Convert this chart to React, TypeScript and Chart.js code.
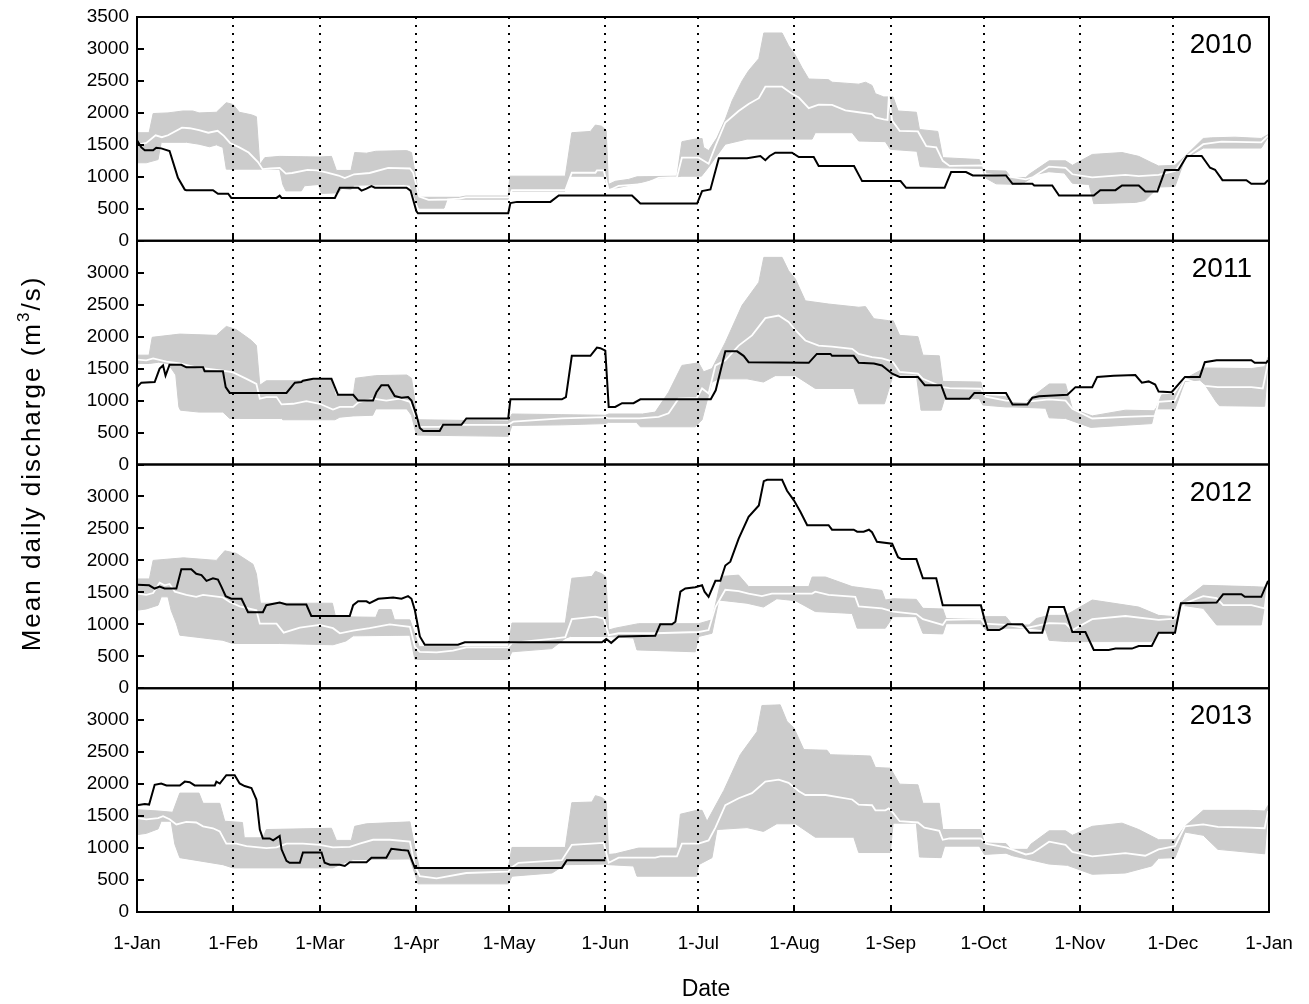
import React, { useEffect, useRef } from "react";
import { Chart, registerables } from "chart.js";
Chart.register(...registerables);

type P = [number, number];

const YEARS = ["2010", "2011", "2012", "2013"];
const MONTH_DAYS = [0, 31, 59, 90, 120, 151, 181, 212, 243, 273, 304, 334, 365];
const MONTH_LABELS = ["1-Jan", "1-Feb", "1-Mar", "1-Apr", "1-May", "1-Jun", "1-Jul", "1-Aug", "1-Sep", "1-Oct", "1-Nov", "1-Dec", "1-Jan"];
const Y_TICKS = [0, 500, 1000, 1500, 2000, 2500, 3000, 3500];
const Y_TITLE_MAIN = "Mean daily discharge (m";
const Y_TITLE_SUP = "3";
const Y_TITLE_END = "/s)";
const X_TITLE = "Date";

// ---------- 2010 ----------
const obs2010: P[] = [[0,1570],[1.4,1460],[2.5,1415],[5.2,1415],[6.2,1455],[7.8,1445],[10.5,1405],[12.2,1140],[13.2,985],[15.4,800],[15.9,790],[24.5,790],[26.1,735],[29.4,735],[30.4,670],[45,670],[46,705],[46.6,670],[63.8,670],[65.4,830],[71.3,830],[72.4,785],[74,815],[75.6,855],[76.7,830],[86.9,830],[88.2,785],[90.1,460],[90.6,430],[119.7,430],[120.4,590],[122.5,608],[133.3,608],[136,707],[159.6,707],[162.3,582],[180.6,582],[182.2,776],[184.9,802],[187.6,1290],[196.7,1290],[201,1326],[202.6,1260],[204,1326],[205.8,1378],[211.2,1378],[213.4,1310],[218.2,1310],[219.8,1168],[231.2,1168],[233.8,933],[246.2,933],[248,828],[260.4,828],[262.5,1074],[267.3,1074],[269.5,1022],[280.2,1022],[282.3,891],[288.7,891],[289.3,865],[295.1,865],[297.3,707],[308.5,707],[310.6,791],[315.5,791],[317.6,865],[323,865],[325.1,770],[329,770],[331.5,1106],[335.8,1106],[338.5,1326],[343.3,1326],[346,1142],[347.6,1110],[350,948],[357.7,948],[359.3,891],[363.6,891],[364.7,948]];
const max2010: P[] = [[0,1690],[3.9,1690],[5.2,1990],[10,2000],[14.8,2030],[18,2030],[20,2000],[25.6,2010],[27.5,2100],[28.8,2160],[31,2130],[33,2010],[36.9,1970],[38.5,1940],[39.6,1190],[41.2,1300],[46,1320],[59,1310],[62.7,1320],[64.3,1100],[69,1100],[70.2,1380],[74,1370],[77,1400],[87,1410],[88.5,1380],[91,680],[104,680],[106,700],[119.7,700],[120.2,1010],[138.1,1010],[140.2,1690],[146.2,1710],[147.8,1810],[149.9,1790],[151.3,1720],[152,880],[154.2,930],[158.5,960],[161.2,1000],[174.1,1010],[175.7,1550],[180,1590],[182.2,1600],[182.7,1460],[184.3,1410],[187,1610],[189.7,1900],[191.9,2190],[195.1,2500],[197.2,2660],[200.5,2850],[202.1,3250],[208,3250],[210.1,3050],[212.3,2900],[214.4,2710],[216.6,2530],[223,2520],[224.1,2480],[232.7,2450],[234.9,2480],[237,2430],[238.1,2300],[240.8,2250],[243.8,2250],[245.4,2030],[251.3,2010],[252.3,1740],[258.2,1710],[259.8,1300],[271.6,1270],[272.7,1140],[273.7,1100],[280.2,1090],[281.8,990],[286.6,990],[287.7,1040],[294.1,1250],[299.4,1250],[301.6,1180],[308,1350],[317.6,1380],[323,1320],[327.2,1220],[329.4,1170],[334.7,1180],[337.9,1320],[343.8,1600],[346.5,1610],[354,1620],[362.5,1600],[364.7,1660]];
const min2010: P[] = [[0,1220],[3,1220],[6.8,1270],[7.8,1540],[16,1540],[20,1510],[23.4,1470],[25.6,1500],[27.7,1460],[28.8,1120],[39.6,1120],[46,1120],[47,880],[48,780],[53,780],[54,860],[58.5,880],[59.5,740],[65,750],[66,820],[69,800],[70,870],[86,880],[88,870],[90,620],[91,510],[99,510],[100,650],[119.7,650],[120.4,775],[138,775],[139.7,1010],[150.5,1010],[152,820],[155,830],[160,880],[168,980],[174,1000],[175.7,1010],[182,1010],[184.3,1150],[186.5,1300],[189.7,1510],[196.7,1590],[217.7,1590],[218.7,1690],[230.6,1690],[232.7,1560],[241.3,1550],[242.9,1430],[251.5,1400],[252.5,1160],[259.8,1140],[272.5,1130],[273.7,980],[277,890],[285,880],[287.7,960],[290,1040],[294,1080],[299,1060],[301.6,900],[307,880],[308.5,580],[322,600],[325,630],[329.4,840],[334.7,850],[337.9,1280],[343.8,1450],[362.5,1450],[364.7,1620]];
const mean2010: P[] = [[0,1500],[3,1530],[6,1650],[8,1620],[10,1650],[14.5,1770],[17,1760],[20,1730],[23,1690],[26,1720],[28,1640],[30,1530],[33,1460],[36,1380],[39,1230],[40.5,1120],[43,1130],[46,1140],[48,1050],[50,1060],[55,1110],[58,1100],[61,1070],[65,1020],[67,980],[70,1040],[75,1060],[81,1140],[88,1130],[89,1070],[91,690],[94,640],[100,645],[104,660],[106,680],[120,680],[120.9,790],[138.1,790],[140.2,1064],[147.8,1064],[148.3,1100],[150.5,1100],[152.1,786],[155.3,860],[163.9,890],[168.2,985],[174.1,995],[175.7,1300],[181.1,1300],[184.3,1205],[186.5,1480],[189.7,1850],[194,2030],[197.2,2140],[200.5,2230],[202.6,2410],[208,2410],[211.2,2300],[213.4,2240],[216.6,2075],[219.8,2130],[224.1,2125],[228.4,2040],[232.7,2010],[237,1980],[238.1,1930],[240.8,1900],[242,1890],[242.4,2240],[243.5,1880],[245.9,1720],[251.8,1710],[254.5,1480],[257.7,1460],[259.8,1250],[262,1170],[272.7,1180],[273.7,1040],[280.2,1010],[286.6,960],[288.7,990],[294.1,1160],[299.4,1140],[301.6,1040],[308,990],[313.3,1010],[318.7,1030],[323,1010],[329.4,1030],[334.7,1090],[337.9,1300],[343.8,1510],[349.7,1550],[362.5,1540],[364.7,1640]];

// ---------- 2011 ----------
const obs2011: P[] = [[0,1210],[1.4,1280],[5.7,1290],[7.3,1500],[8.4,1550],[9.2,1390],[10.5,1560],[14.3,1560],[15.9,1520],[21.3,1520],[21.8,1460],[27.7,1460],[28.6,1210],[29.9,1120],[48.2,1120],[50.9,1280],[53,1290],[53.5,1310],[56.8,1340],[62.7,1340],[64.8,1090],[69.7,1090],[71.3,1000],[76.1,1000],[77.2,1130],[78.8,1240],[81,1240],[83.1,1070],[85.3,1045],[87.4,1055],[88.5,1000],[90.1,770],[91.2,570],[92.3,525],[97.6,525],[98.7,620],[104.6,620],[106.2,720],[119.7,720],[120.4,1020],[137,1020],[138.3,1055],[140.2,1700],[146.2,1700],[148.3,1830],[149.4,1820],[151,1780],[152.1,900],[154.2,900],[156.4,960],[160.1,960],[162.3,1020],[185,1020],[186.6,1160],[189.7,1770],[193.5,1770],[195.6,1700],[197.2,1600],[216.6,1590],[219.2,1730],[223.6,1730],[224.1,1700],[231.1,1700],[232.7,1590],[237.6,1580],[240.2,1550],[243.5,1420],[245.9,1370],[251.8,1370],[254,1240],[259.3,1240],[260.9,1030],[268.4,1030],[270,1120],[280.2,1120],[282.3,940],[287.1,940],[288.7,1045],[290.9,1066],[300,1090],[302.6,1210],[308,1210],[309.6,1370],[314.9,1390],[321.9,1400],[324,1280],[326.2,1300],[328.3,1250],[329.4,1140],[333.6,1130],[337.9,1370],[342.7,1370],[344.3,1600],[348.1,1630],[359.3,1630],[360.4,1590],[364.1,1590],[364.7,1630]];
const max2011: P[] = [[0,1710],[3.9,1710],[4.9,1990],[13.8,2040],[25.6,2020],[28.8,2160],[32,2110],[36.9,1940],[38.5,1860],[39.6,1240],[41.7,1310],[51.4,1310],[62.7,1320],[64,1080],[69.7,1080],[70.5,1350],[77,1390],[87,1400],[88.5,1350],[90.5,700],[119.7,680],[120.9,790],[137,780],[151,770],[152.1,790],[163,790],[167.1,820],[171.4,1130],[175.7,1550],[181.1,1590],[182.7,1450],[185.4,1500],[189.7,1910],[195.1,2490],[200.5,2850],[202.1,3240],[208,3240],[210.1,3030],[212.3,2900],[215.5,2560],[223,2510],[232.7,2460],[234.9,2470],[237.6,2280],[242.4,2250],[243.8,2250],[245.9,2020],[251.8,2000],[253.4,1710],[258.7,1700],[259.8,1300],[272.1,1290],[273.2,1080],[280.2,1060],[282.3,980],[286.6,980],[294.1,1260],[299.4,1260],[301.6,870],[308,760],[318.7,850],[328.3,840],[330.4,1090],[334.7,1100],[337.9,1340],[344.3,1510],[359.3,1500],[363.6,1530],[364.7,1680]];
const min2011: P[] = [[0,1580],[4,1580],[7,1600],[10,1580],[12.5,1400],[13.5,900],[14,850],[20,820],[27.7,820],[29.9,720],[46.6,720],[47,700],[63.8,700],[65.4,740],[69.7,760],[76,770],[77,870],[87,870],[88.5,770],[90.1,460],[119.7,440],[120.9,610],[137,620],[151,640],[152.1,660],[161,660],[162.3,590],[180,590],[182.2,700],[185.4,1290],[187.6,1340],[196.7,1340],[202,1290],[205.8,1390],[212.3,1390],[218.7,1190],[231.1,1190],[232.7,950],[241,950],[243.8,1400],[251.3,1400],[252.8,850],[259.3,850],[260.4,1030],[271.6,1030],[272.7,930],[280.2,900],[282.3,900],[293,880],[294.1,730],[299.4,720],[307.5,580],[327.2,640],[328.3,870],[334.7,870],[337.9,1300],[342.7,1320],[344.3,1250],[348.1,970],[349,920],[363.6,910],[364.7,1600]];
const mean2011: P[] = [[0,1640],[3,1630],[5.2,1660],[9.5,1610],[13.8,1580],[19.1,1520],[27.7,1470],[31,1440],[35.3,1340],[38.5,1260],[39.6,1030],[41.7,1055],[45,1055],[46.6,940],[50.3,950],[54.6,990],[58.9,950],[63.2,860],[65.4,900],[69.7,900],[71.3,970],[76.1,1030],[80.4,1000],[84.7,1030],[88,980],[89.6,770],[91.2,590],[97.6,590],[98.7,620],[119.7,620],[121.3,670],[137,720],[151,740],[152.1,720],[162,720],[168.2,745],[171.4,800],[174.6,1030],[180.5,1040],[182.2,1190],[184.3,1110],[186.5,1550],[189.7,1630],[194,1860],[198.3,2020],[202.6,2290],[206.9,2330],[210.1,2230],[212.3,2100],[215.5,1940],[219.8,1860],[224.1,1845],[230.6,1810],[232.7,1730],[237,1680],[240.2,1660],[242.4,1630],[243.8,1600],[245.9,1450],[251.8,1420],[253.4,1340],[259.8,1210],[262,1195],[272.1,1185],[273.7,1060],[280.2,1000],[286.6,980],[294.1,1020],[299.4,1000],[301.6,870],[308,720],[318.7,745],[328.3,760],[329.4,980],[334.7,1000],[337.9,1340],[344.3,1230],[348.5,1210],[359.3,1210],[363,1190],[364.7,1600]];

// ---------- 2012 ----------
const obs2012: P[] = [[0,1620],[3.9,1610],[5.7,1560],[7.3,1590],[8.9,1560],[12.7,1560],[14.3,1860],[17.5,1860],[19.1,1790],[20.8,1770],[22.4,1680],[24.5,1720],[26.1,1700],[27.2,1590],[28.6,1440],[30.4,1400],[33.7,1400],[35.8,1190],[40.6,1190],[41.7,1300],[46,1340],[48.2,1310],[54.6,1310],[56.2,1130],[68.6,1130],[69.7,1300],[71.3,1360],[74,1360],[75,1330],[77.8,1400],[82.6,1420],[85.3,1400],[87.4,1440],[88.5,1400],[89.6,1220],[91.2,810],[92.8,680],[103.5,680],[105.7,720],[149.9,720],[151.3,770],[152.9,710],[155.3,810],[167.1,820],[168.7,1000],[172.5,1000],[173.6,1040],[175.2,1510],[176.8,1560],[180,1580],[182.2,1610],[183,1510],[184.3,1430],[186.5,1680],[188.1,1680],[189.7,1920],[191.3,1980],[194,2340],[197.2,2680],[200.5,2860],[202.1,3240],[203.2,3260],[208,3260],[209.6,3090],[211.8,2940],[213.9,2760],[216.1,2550],[223,2550],[224.1,2480],[231.1,2480],[232.2,2450],[234.3,2450],[236,2480],[237,2440],[238.6,2290],[243.5,2260],[245.4,2050],[246.5,2020],[251.3,2020],[253.4,1720],[257.7,1720],[259.8,1300],[272.1,1300],[273.2,1090],[274.3,910],[278,910],[279.1,940],[280.7,1000],[285.5,1000],[287.7,870],[291.9,870],[294.1,1270],[298.9,1270],[301.6,880],[305.8,880],[308.5,600],[313.3,600],[315.5,620],[320.8,620],[323,660],[327.2,660],[329.4,870],[334.7,870],[336.6,1330],[348.1,1340],[350.2,1470],[356.1,1470],[357.2,1430],[362.5,1430],[364.7,1680]];
const max2012: P[] = [[0,1710],[4,1710],[5.2,2000],[15,2040],[25.6,2000],[28.3,2150],[32,2110],[37.4,1940],[38.5,1790],[39.8,1330],[63,1330],[64,1120],[77,1110],[78,1230],[82,1230],[83,1070],[88,1070],[91,650],[119.7,650],[120.9,1020],[138.1,1020],[140.2,1720],[146.7,1750],[147.8,1830],[149.9,1790],[151.2,1740],[152.1,910],[154.2,940],[161.7,1010],[181.1,1010],[185.4,1070],[188.6,1750],[194,1770],[197.2,1590],[216.6,1590],[217.7,1740],[222,1740],[230.6,1590],[240.2,1530],[241.3,1380],[243.8,1400],[251.3,1390],[253.4,1250],[259.8,1240],[260.9,1090],[272,1080],[273.2,1120],[280.2,1120],[282.3,990],[287.7,990],[290,1090],[294.1,1140],[299.4,1140],[301.6,1200],[308,1380],[323,1270],[329.4,1140],[334.7,1120],[336.6,1340],[343.8,1610],[359.3,1590],[364,1580],[364.7,1680]];
const min2012: P[] = [[0,1220],[3,1240],[6.8,1300],[7.8,1430],[10,1430],[11,1220],[12.7,1010],[13.8,830],[27.7,750],[30.9,700],[46,700],[63.2,680],[67.4,740],[69.7,820],[88,830],[89.6,450],[119.7,450],[120.9,570],[133.8,620],[138.1,780],[139.7,810],[152,810],[160.1,785],[161.2,600],[180,570],[181.1,810],[185.4,860],[187.6,1380],[196.7,1330],[202,1270],[206.3,1400],[212.3,1370],[218.7,1200],[230.6,1170],[232.2,940],[241.3,940],[243.8,1120],[251.3,1120],[253.4,860],[259.8,850],[260.9,1010],[272,1010],[273.7,910],[280.2,940],[287.7,940],[293,910],[294.1,750],[300,730],[308,730],[327.2,730],[329.4,860],[334.7,870],[336.6,1300],[343.8,1250],[348.1,990],[362.5,990],[364.7,1600]];
const mean2012: P[] = [[0,1480],[3,1460],[5.2,1490],[7.3,1650],[8.9,1610],[10.5,1630],[12.2,1510],[15.9,1460],[19.1,1430],[21.3,1460],[27.7,1420],[29.9,1350],[33.1,1280],[38.5,1220],[39.6,1010],[45,1010],[47.3,870],[52.5,950],[58.9,990],[63.2,940],[65.4,860],[69.7,900],[75,940],[81.5,1000],[84.7,980],[88,960],[89.6,650],[91.2,570],[96.6,560],[101.9,590],[106.2,640],[119.7,640],[120.9,710],[135,780],[138.1,800],[140.2,1080],[147.8,1120],[150.5,1090],[152.1,830],[155.3,860],[167.1,860],[181.1,880],[184.3,910],[186.5,1270],[189.7,1540],[194,1520],[197.2,1480],[201.5,1440],[204.7,1480],[217.7,1480],[218.7,1510],[223,1460],[231.6,1430],[232.7,1280],[240.2,1250],[243.8,1200],[251.3,1160],[253.4,1080],[259.8,990],[260.9,1070],[272.1,1080],[273.2,1010],[280.2,990],[286.6,940],[294.1,1020],[299.4,1010],[301.6,910],[308,1080],[318.7,1130],[329.4,1070],[334.7,1090],[337.9,1330],[343.8,1440],[348.1,1410],[350.2,1300],[359.3,1300],[363.6,1250],[364.7,1640]];

// ---------- 2013 ----------
const obs2013: P[] = [[0,1670],[2.5,1690],[3.9,1680],[5.7,1990],[7.8,2010],[9.5,1980],[13.8,1980],[15.4,2040],[17,2030],[18.6,1980],[25.1,1980],[25.6,2040],[26.7,2010],[28.8,2140],[31.5,2140],[33.1,2010],[34.7,1970],[36.9,1940],[38.5,1760],[39.6,1290],[40.6,1150],[42.8,1150],[43.9,1120],[46,1190],[46.6,980],[48.2,800],[49.2,770],[52.5,770],[53.5,930],[59.5,930],[60.5,770],[62.2,740],[65.4,740],[67,720],[68.6,780],[74,780],[75.6,850],[80.4,850],[82,990],[85.3,970],[87.4,960],[89.6,690],[137,690],[138.6,810],[151,810]];
const max2013: P[] = [[0,1600],[6.8,1580],[11.5,1560],[13.8,1860],[20,1860],[21.3,1700],[26.7,1700],[28.3,1420],[34,1400],[34.6,1160],[40.6,1160],[41.7,1290],[62.7,1310],[64.3,1120],[69.1,1120],[70.2,1340],[74,1380],[88,1410],[89.6,1000],[91.2,660],[119.7,680],[120.9,1010],[138.1,1010],[140.2,1710],[146.7,1720],[147.8,1820],[149.9,1790],[151.3,1730],[152.1,900],[154.2,910],[161.7,1000],[174.1,1000],[175.2,1530],[180.5,1590],[182.2,1590],[183.8,1420],[189.2,1900],[194.5,2460],[199.9,2820],[201.5,3230],[207.4,3240],[209.6,2980],[211.8,2880],[215,2540],[222.5,2530],[223.6,2460],[231.1,2450],[236.5,2440],[238.1,2260],[242.9,2250],[245.9,2000],[251.8,1990],[253.4,1700],[258.7,1700],[259.8,1290],[272.1,1290],[273.2,1080],[280.2,1070],[281.8,980],[287.1,980],[288.2,1060],[294.1,1270],[299.4,1270],[301.6,1200],[308,1340],[317.6,1390],[323,1290],[329.4,1130],[334.7,1130],[337.9,1340],[343.8,1590],[358.8,1590],[363.6,1580],[364.7,1670]];
const min2013: P[] = [[0,1210],[3,1230],[6.8,1300],[7.8,1420],[11,1420],[12.2,1060],[13.8,850],[27.7,740],[30.9,690],[63.2,690],[65.4,740],[69.7,820],[88,830],[89.6,600],[90.6,440],[119.7,440],[120.9,560],[133.8,610],[138.1,740],[151,750],[152.1,740],[160.1,720],[161.2,560],[180.5,560],[181.1,740],[185.4,850],[187,1290],[196.7,1320],[202,1260],[206.3,1380],[212.3,1380],[218.7,1170],[231.1,1170],[232.7,930],[242.9,930],[243.8,1390],[251.3,1390],[252.3,860],[259.3,850],[260.4,1030],[271.6,1030],[273.2,900],[280.2,920],[282.3,880],[294.1,750],[300,730],[308,590],[318.7,610],[327.2,720],[329.4,840],[334.7,850],[337.9,1250],[343.8,1200],[348.5,980],[363.6,910],[364.7,1620]];
const mean2013: P[] = [[0,1470],[3,1450],[6.8,1470],[8.4,1500],[10.5,1450],[12.7,1370],[15.9,1410],[19.1,1400],[21.3,1340],[24.5,1310],[26.7,1260],[28.8,1070],[32,1070],[35.3,1030],[41.7,1000],[45,1010],[48.2,1070],[53.5,1070],[58.9,1050],[63.2,1010],[68.6,1020],[71.8,1070],[76.1,1130],[81.5,1130],[88,1100],[89.6,720],[91.2,560],[96.6,525],[106.2,610],[119.7,630],[120.9,700],[123,770],[137,810],[140.2,1050],[146.7,1070],[150.5,1080],[152.1,770],[155.3,850],[167.1,850],[168.7,870],[174.1,870],[175.7,1070],[181.1,1070],[184.3,1120],[186.5,1320],[189.7,1670],[194,1780],[198.3,1860],[202.6,2040],[206.9,2070],[210.1,2020],[213.4,1890],[215.5,1830],[222,1830],[230.6,1760],[232.7,1680],[237,1670],[238.1,1590],[241.3,1590],[242.4,1620],[243.8,1550],[245.9,1420],[251.8,1400],[253.9,1320],[258.7,1270],[259.8,1130],[262,1150],[272.1,1150],[273.7,1070],[280.2,1010],[286.6,900],[288.7,920],[294.1,1100],[299.4,1050],[301.6,940],[308,870],[318.7,920],[325.1,880],[329.4,980],[334.7,1030],[337.9,1340],[343.8,1370],[348.5,1330],[358.8,1320],[363.6,1310],[364.7,1580]];

const OBS = [obs2010, obs2011, obs2012, obs2013];
const MAX = [max2010, max2011, max2012, max2013];
const MIN = [min2010, min2011, min2012, min2013];
const MEAN = [mean2010, mean2011, mean2012, mean2013];

const FONT = "'Liberation Sans', Arial, Helvetica, sans-serif";
const GREY = "#cccccc";

const toXY = (a: P[]) => a.map(([x, y]) => ({ x, y }));

// draw a string character by character with extra spacing; returns advance
function spacedText(ctx: any, s: string, x: number, y: number, gap: number, draw: boolean) {
  let cx = x;
  for (const ch of s) {
    if (draw) ctx.fillText(ch, cx, y);
    cx += ctx.measureText(ch).width + gap;
  }
  return cx - x;
}

const framePlugin = {
  id: "framePlugin",
  afterDatasetsDraw(chart: any) {
    const ctx = chart.ctx;
    const xs = chart.scales.x;
    const { left, right, top, bottom } = chart.chartArea;
    ctx.save();
    ctx.strokeStyle = "#000";
    ctx.lineWidth = 2;
    ctx.setLineDash([2, 6]);
    for (const d of MONTH_DAYS.slice(1, -1)) {
      const px = Math.round(xs.getPixelForValue(d));
      ctx.beginPath();
      ctx.moveTo(px, top);
      ctx.lineTo(px, bottom);
      ctx.stroke();
    }
    ctx.setLineDash([]);
    YEARS.forEach((yr, k) => {
      const ys = chart.scales["y" + k];
      const t = ys.top;
      const b = ys.bottom;
      ctx.lineWidth = 2;
      ctx.strokeStyle = "#000";
      ctx.strokeRect(left, t, right - left, b - t);
      ctx.beginPath();
      for (const v of Y_TICKS) {
        const py = Math.round(ys.getPixelForValue(v));
        ctx.moveTo(left, py);
        ctx.lineTo(left + 7, py);
      }
      for (const d of MONTH_DAYS) {
        const px = Math.round(xs.getPixelForValue(d));
        ctx.moveTo(px, b);
        ctx.lineTo(px, b - 6);
      }
      ctx.stroke();
      ctx.fillStyle = "#000";
      ctx.font = `28px ${FONT}`;
      ctx.textAlign = "right";
      ctx.textBaseline = "alphabetic";
      ctx.fillText(yr, right - 17, t + 36);
    });
    // y title
    ctx.save();
    ctx.translate(33, (top + bottom) / 2);
    ctx.rotate(-Math.PI / 2);
    ctx.fillStyle = "#000";
    ctx.textBaseline = "middle";
    ctx.textAlign = "left";
    const big = `26px ${FONT}`;
    const small = `17px ${FONT}`;
    const gap = 2;
    ctx.font = big;
    const w1 = spacedText(ctx, Y_TITLE_MAIN, 0, 0, gap, false);
    const w3 = spacedText(ctx, Y_TITLE_END, 0, 0, gap, false);
    ctx.font = small;
    const w2 = spacedText(ctx, Y_TITLE_SUP, 0, 0, gap, false);
    const total = w1 + w2 + w3 - gap;
    let x0 = -total / 2;
    ctx.font = big;
    x0 += spacedText(ctx, Y_TITLE_MAIN, x0, 0, gap, true);
    ctx.font = small;
    x0 += spacedText(ctx, Y_TITLE_SUP, x0, -9, gap, true);
    ctx.font = big;
    spacedText(ctx, Y_TITLE_END, x0, 0, gap, true);
    ctx.restore();
    // x title
    ctx.fillStyle = "#000";
    ctx.font = `23px ${FONT}`;
    ctx.textAlign = "center";
    ctx.textBaseline = "middle";
    ctx.fillText(X_TITLE, (left + right) / 2 + 3, 990);
    ctx.restore();
  },
};

export default function App() {
  const ref = useRef<HTMLCanvasElement | null>(null);
  useEffect(() => {
    document.body.style.margin = "0";
    document.documentElement.style.overflow = "hidden";
    if (!ref.current) return;
    const datasets: any[] = [];
    YEARS.forEach((yr, k) => {
      const yid = "y" + k;
      datasets.push({
        label: "max " + yr, data: toXY(MAX[k]), yAxisID: yid, borderColor: GREY, backgroundColor: GREY,
        borderWidth: 1, pointRadius: 0, tension: 0, fill: "+1", order: 2,
      });
      datasets.push({
        label: "min " + yr, data: toXY(MIN[k]), yAxisID: yid, borderColor: GREY,
        borderWidth: 1, pointRadius: 0, tension: 0, fill: false, order: 2,
      });
      datasets.push({
        label: "mean " + yr, data: toXY(MEAN[k]), yAxisID: yid, borderColor: "#ffffff",
        borderWidth: 1.8, pointRadius: 0, tension: 0, fill: false, order: 1,
      });
      datasets.push({
        label: yr, data: toXY(OBS[k]), yAxisID: yid, borderColor: "#000000",
        borderWidth: 2, pointRadius: 0, tension: 0, fill: false, order: 0,
      });
    });
    const scales: any = {
      x: {
        type: "linear", position: "bottom", min: 0, max: 365,
        afterBuildTicks: (s: any) => { s.ticks = MONTH_DAYS.map((v) => ({ value: v })); },
        afterFit: (s: any) => { s.height = 92; s.paddingLeft = 0; s.paddingRight = 0; },
        ticks: {
          autoSkip: false, maxRotation: 0, minRotation: 0, padding: 20, color: "#000",
          font: { family: FONT, size: 19 },
          callback: (_v: any, i: number) => MONTH_LABELS[i],
        },
        grid: { display: false, drawTicks: false },
        border: { display: true, color: "#000", width: 2 },
      },
    };
    YEARS.forEach((_yr, k) => {
      scales["y" + k] = {
        type: "linear", position: "left", stack: "panels", stackWeight: 1, weight: 10 - k,
        min: 0, max: 3500,
        afterBuildTicks: (s: any) => { s.ticks = Y_TICKS.map((v) => ({ value: v })); },
        afterFit: (s: any) => { s.width = 137; s.paddingTop = 0; s.paddingBottom = 0; },
        ticks: {
          autoSkip: false, padding: 8, color: "#000",
          font: { family: FONT, size: 19 },
          callback: (v: any) => (k > 0 && v === 3500 ? "" : String(v)),
        },
        grid: { display: false, drawTicks: false },
        border: { display: true, color: "#000", width: 2 },
      };
    });
    const chart = new Chart(ref.current, {
      type: "line",
      data: { datasets },
      options: {
        animation: false,
        responsive: true,
        maintainAspectRatio: false,
        parsing: false as any,
        normalized: true,
        layout: { padding: { top: 17, right: 40, left: 0, bottom: 0 } },
        plugins: { legend: { display: false }, tooltip: { enabled: false }, title: { display: false } },
        scales,
      } as any,
      plugins: [framePlugin],
    });
    return () => chart.destroy();
  }, []);
  return (
    <div style={{ width: 1309, height: 1004, position: "relative", background: "#fff" }}>
      <canvas ref={ref} />
    </div>
  );
}
